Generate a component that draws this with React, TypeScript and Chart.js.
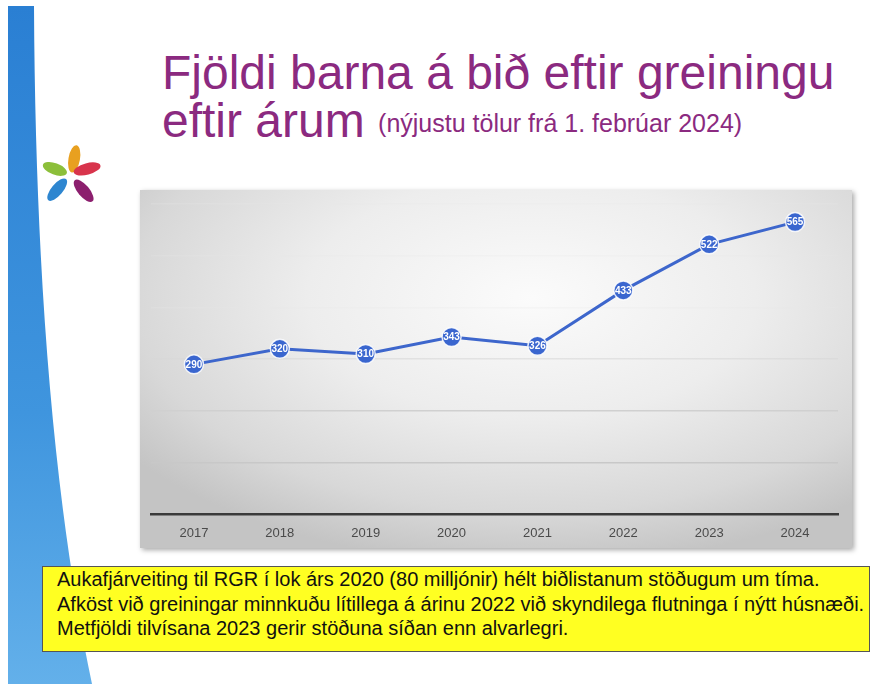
import React, { useEffect, useRef } from "react";
import { Chart, registerables } from "chart.js";

Chart.register(...registerables);

const years = ["2017", "2018", "2019", "2020", "2021", "2022", "2023", "2024"];
const waiting = [290, 320, 310, 343, 326, 433, 522, 565];
const titleLine1 = "Fjöldi barna á bið eftir greiningu";
const titleLine2 = "eftir árum";
const titleNote = "(nýjustu tölur frá 1. febrúar 2024)";
const noteLines = [
  "Aukafjárveiting til RGR í lok árs 2020 (80 milljónir) hélt biðlistanum stöðugum um tíma.",
  "Afköst við greiningar minnkuðu lítillega á árinu 2022 við skyndilega flutninga í nýtt húsnæði.",
  "Metfjöldi tilvísana 2023 gerir stöðuna síðan enn alvarlegri.",
];

const labelPlugin = {
  id: "pointLabels",
  afterDatasetsDraw(chart: any) {
    const ctx = chart.ctx;
    const meta = chart.getDatasetMeta(0);
    ctx.save();
    ctx.fillStyle = "#ffffff";
    ctx.font = "bold 10px 'Liberation Sans', Arial, sans-serif";
    ctx.textAlign = "center";
    ctx.textBaseline = "middle";
    meta.data.forEach((pt: any, i: number) => {
      ctx.fillText(String(chart.data.datasets[0].data[i]), pt.x, pt.y + 0.5);
    });
    ctx.restore();
  },
};

function LineChart() {
  const ref = useRef<HTMLCanvasElement>(null);
  useEffect(() => {
    if (!ref.current) return;
    const chart = new Chart(ref.current, {
      type: "line",
      data: {
        labels: years,
        datasets: [
          {
            data: waiting,
            borderColor: "#3d66cc",
            borderWidth: 3,
            pointRadius: 9.5,
            pointBackgroundColor: "#3a66cf",
            pointBorderColor: "rgba(255,255,255,0.85)",
            pointBorderWidth: 1.5,
            tension: 0,
          },
        ],
      },
      options: {
        responsive: false,
        animation: false,
        layout: { padding: { top: 14, left: 10, right: 14, bottom: 8 } },
        plugins: { legend: { display: false }, tooltip: { enabled: false } },
        scales: {
          x: {
            offset: true,
            grid: { display: false, drawTicks: false },
            border: { display: true, color: "#3a3a3a", width: 2.5 },
            ticks: {
              padding: 11,
              color: "#4a4a4a",
              font: { size: 13, family: "'Liberation Sans', Arial, sans-serif" },
            },
          },
          y: {
            min: 0,
            max: 600,
            ticks: { display: false, stepSize: 100 },
            border: { display: false },
            grid: {
              drawTicks: false,
              lineWidth: 1.5,
              color: (c: any) => {
                const v = c.tick ? c.tick.value : 0;
                if (v === 100) return "#c8c8c8";
                if (v === 200) return "#d0d0d0";
                if (v === 300) return "rgba(215,215,215,0.6)";
                return "rgba(230,230,230,0.25)";
              },
            },
          },
        },
      },
      plugins: [labelPlugin],
    });
    return () => chart.destroy();
  }, []);
  return <canvas ref={ref} width={712} height={370} style={{ display: "block", position: "absolute", left: 0, top: 0 }} />;
}

export default function App() {
  return (
    <div
      style={{
        position: "fixed",
        left: 0,
        top: 0,
        width: 879,
        height: 684,
        background: "#ffffff",
        overflow: "hidden",
        fontFamily: "'Liberation Sans', Arial, sans-serif",
      }}
    >
      <svg width={879} height={684} style={{ position: "absolute", left: 0, top: 0 }}>
        <defs>
          <linearGradient id="bl" x1="0" y1="0" x2="0" y2="1">
            <stop offset="0" stopColor="#2a7fd3" />
            <stop offset="0.6" stopColor="#3f95de" />
            <stop offset="1" stopColor="#63b0ea" />
          </linearGradient>
        </defs>
        <path d="M8,6 L34,6 Q36,420 92,684 L8,684 Z" fill="url(#bl)" />
        <g transform="translate(71,177) scale(1.15)">
          <ellipse cx="0" cy="-16" rx="5" ry="12" fill="#e8a020" transform="rotate(10)" />
          <ellipse cx="14" cy="-7" rx="5" ry="12" fill="#d8344c" transform="rotate(75 14 -7)" />
          <ellipse cx="11" cy="12" rx="5" ry="12" fill="#8c1f6e" transform="rotate(-40 11 12)" />
          <ellipse cx="-12" cy="11" rx="5" ry="12" fill="#2e86d0" transform="rotate(40 -12 11)" />
          <ellipse cx="-14" cy="-7" rx="5" ry="11" fill="#8cbf3a" transform="rotate(-70 -14 -7)" />
        </g>
      </svg>

      <div
        style={{
          position: "absolute",
          left: 162,
          top: 49,
          color: "#8b2a80",
          fontSize: 48,
          lineHeight: "48px",
          whiteSpace: "nowrap",
        }}
      >
        <div>{titleLine1}</div>
        <div>
          {titleLine2} <span style={{ fontSize: 25, verticalAlign: "5px" }}>{titleNote}</span>
        </div>
      </div>

      <div
        style={{
          position: "absolute",
          left: 140,
          top: 190,
          width: 712,
          height: 358,
          background:
            "radial-gradient(ellipse 70% 75% at 55% 30%, #fbfbfb 0%, #ededed 45%, #d8d8d8 80%, #c4c4c4 100%)",
          boxShadow: "2px 2px 5px rgba(0,0,0,0.35)",
        }}
      >
        <LineChart />
      </div>

      <div
        style={{
          position: "absolute",
          left: 42,
          top: 566,
          width: 828,
          height: 86,
          background: "#ffff22",
          border: "1.5px solid #555",
          boxSizing: "border-box",
          padding: "0 0 0 14px",
          fontSize: 20,
          lineHeight: "24.5px",
          color: "#111",
          whiteSpace: "nowrap",
        }}
      >
        {noteLines.map((l, i) => (
          <div key={i}>{l}</div>
        ))}
      </div>
    </div>
  );
}
